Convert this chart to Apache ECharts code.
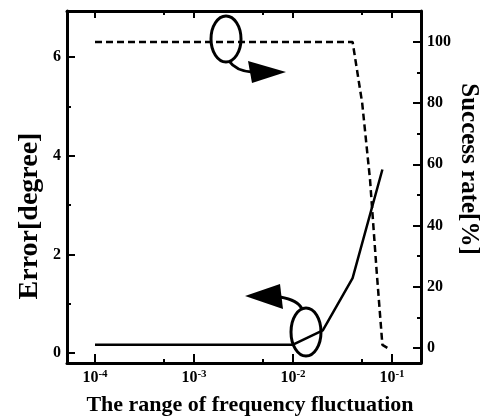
<!DOCTYPE html>
<html><head><meta charset="utf-8">
<script src="https://cdn.jsdelivr.net/npm/echarts@6/dist/echarts.min.js"></script>
<style>html,body{margin:0;padding:0;background:#fff}#c{width:487px;height:419px}</style>
</head><body><div id="c"></div>
<script>
// ---- data ----
const errorX = [1e-4, 1e-3, 1e-2, 0.02, 0.04, 0.08];
const errorY = [0.17, 0.17, 0.17, 0.46, 1.52, 3.72];
const successX = [1e-4, 1e-3, 1e-2, 0.04, 0.05, 0.06, 0.07, 0.08, 0.09];
const successY = [100, 100, 100, 100, 80, 55, 25, 1, 0];
const xMajorTicks = [1e-4, 1e-3, 1e-2, 1e-1];
const xMinorTicks = [5e-4, 5e-3, 5e-2];
const errorMajorTicks = [0, 2, 4, 6];
const errorMinorTicks = [1, 3, 5];
const successMajorTicks = [0, 20, 40, 60, 80, 100];
const successMinorTicks = [10, 30, 50, 70, 90];
const xTitle = 'The range of frequency fluctuation';
const leftTitle = 'Error[degree]';
const rightTitle = 'Success rate[%]';

const FONT = 'Liberation Serif';
const X_MIN = Math.pow(10, -4.283), X_MAX = Math.pow(10, -0.707);
const E_MIN = -0.2, E_MAX = 6.93;
const S_MIN = -4.9, S_MAX = 110.1;
const LW = 3;

function xAxisDef(pos, ticks, len, showLine, labels) {
  return {
    type: 'log', logBase: 10, position: pos, min: X_MIN, max: X_MAX,
    axisLine: { show: showLine, onZero: false, lineStyle: { color: '#000', width: LW } },
    axisTick: { show: true, inside: true, length: len, customValues: ticks, lineStyle: { color: '#000', width: 2 } },
    axisLabel: labels ? {
      show: true, customValues: ticks, margin: 6,
      formatter: v => '{b|10}{s|' + Math.round(Math.log10(v)) + '}',
      rich: {
        b: { fontFamily: FONT, fontWeight: 'bold', fontSize: 16, color: '#000', verticalAlign: 'bottom', lineHeight: 17 },
        s: { fontFamily: FONT, fontWeight: 'bold', fontSize: 11, color: '#000', verticalAlign: 'top', lineHeight: 11 }
      }
    } : { show: false },
    splitLine: { show: false }, minorTick: { show: false }
  };
}
function yAxisDef(pos, min, max, ticks, len, showLine, labels) {
  return {
    type: 'value', position: pos, min: min, max: max,
    axisLine: { show: showLine, onZero: false, lineStyle: { color: '#000', width: LW } },
    axisTick: { show: true, inside: true, length: len, customValues: ticks, lineStyle: { color: '#000', width: 2 } },
    axisLabel: labels ? { show: true, customValues: ticks, margin: 6, fontFamily: FONT, fontWeight: 'bold', fontSize: 16, color: '#000' } : { show: false },
    splitLine: { show: false }
  };
}

const chart = echarts.init(document.getElementById('c'), null, { renderer: 'canvas' });
chart.setOption({
  backgroundColor: '#fff',
  animation: false,
  grid: { left: 67, right: 66, top: 11, bottom: 56, containLabel: false },
  xAxis: [
    xAxisDef('bottom', xMajorTicks, 9, true, true),
    xAxisDef('bottom', xMinorTicks, 4, false, false),
    xAxisDef('top', xMajorTicks, 7, true, false),
    xAxisDef('top', xMinorTicks, 4, false, false)
  ],
  yAxis: [
    yAxisDef('left', E_MIN, E_MAX, errorMajorTicks, 8, true, true),
    yAxisDef('left', E_MIN, E_MAX, errorMinorTicks, 4, false, false),
    yAxisDef('right', S_MIN, S_MAX, successMajorTicks, 8, true, true),
    yAxisDef('right', S_MIN, S_MAX, successMinorTicks, 4, false, false)
  ],
  series: [
    {
      type: 'line', name: 'Error', xAxisIndex: 0, yAxisIndex: 0, showSymbol: false, symbol: 'none',
      data: errorX.map((x, i) => [x, errorY[i]]),
      lineStyle: { color: '#000', width: 2.5 }
    },
    {
      type: 'line', name: 'Success rate', xAxisIndex: 0, yAxisIndex: 2, showSymbol: false, symbol: 'none',
      data: successX.map((x, i) => [x, successY[i]]),
      lineStyle: { color: '#000', width: 2.5, type: [7, 4] }
    }
  ],
  graphic: [
    { type: 'text', x: 250, y: 405, style: { text: xTitle, fontFamily: FONT, fontWeight: 'bold', fontSize: 22, fill: '#000', align: 'center', verticalAlign: 'middle' } },
    { type: 'text', x: 30, y: 216, rotation: Math.PI / 2, style: { text: leftTitle, fontFamily: FONT, fontWeight: 'bold', fontSize: 28, fill: '#000', align: 'center', verticalAlign: 'middle' } },
    { type: 'text', x: 468, y: 169, rotation: -Math.PI / 2, style: { text: rightTitle, fontFamily: FONT, fontWeight: 'bold', fontSize: 25, fill: '#000', align: 'center', verticalAlign: 'middle' } },
    // top loop arrow (points to right axis)
    { type: 'ellipse', shape: { cx: 226, cy: 39, rx: 15, ry: 23 }, style: { fill: 'none', stroke: '#000', lineWidth: 3 } },
    { type: 'bezierCurve', shape: { x1: 229, y1: 61, cpx1: 236, cpy1: 71, x2: 252, y2: 72 }, style: { fill: 'none', stroke: '#000', lineWidth: 3 } },
    { type: 'polygon', shape: { points: [[248, 61], [286, 72], [252, 83]] }, style: { fill: '#000' } },
    // bottom loop arrow (points to left axis)
    { type: 'ellipse', shape: { cx: 306, cy: 332, rx: 15, ry: 24 }, style: { fill: 'none', stroke: '#000', lineWidth: 3 } },
    { type: 'bezierCurve', shape: { x1: 302, y1: 309, cpx1: 298, cpy1: 300, x2: 280, y2: 297 }, style: { fill: 'none', stroke: '#000', lineWidth: 3 } },
    { type: 'polygon', shape: { points: [[245, 296], [280, 284], [283, 309]] }, style: { fill: '#000' } }
  ]
});
</script>
</body></html>
